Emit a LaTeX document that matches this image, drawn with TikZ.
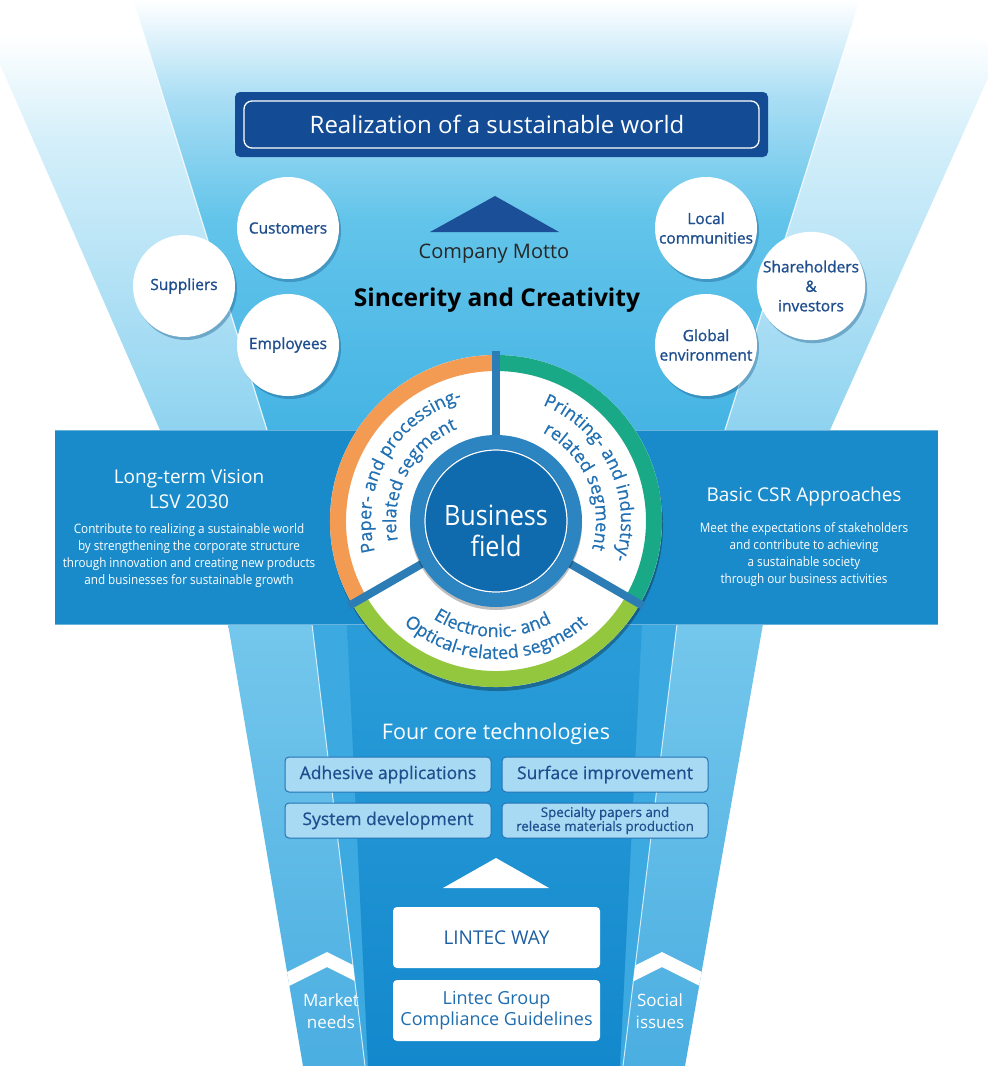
\documentclass[tikz,border=0pt]{standalone}
\usepackage{fontspec}
\setmainfont{Open Sans}
\newfontfamily\nar{Open Sans}[FakeStretch=0.9]
\newfontfamily\med{Open Sans}[FakeBold=1.2]
\newfontfamily\semi{Open Sans}[FakeBold=0.6]
\usetikzlibrary{decorations.text,shadows,calc}

% palette
\definecolor{outerA}{HTML}{D4EFFA}
\definecolor{outerB}{HTML}{8FD3F0}
\definecolor{innerA}{HTML}{A8DDF4}
\definecolor{innerM}{HTML}{62C4EA}
\definecolor{innerB}{HTML}{45B4E4}
\definecolor{lowouterA}{HTML}{74C7EC}
\definecolor{lowouterB}{HTML}{4BAEE1}
\definecolor{lowmid}{HTML}{3CA9E0}
\definecolor{lowcoreA}{HTML}{2A9DD9}
\definecolor{lowcoreB}{HTML}{1388CC}
\definecolor{bandblue}{HTML}{1A8BCA}
\definecolor{goalnavy}{HTML}{134C95}
\definecolor{mottonavy}{HTML}{1B4F97}
\definecolor{navytext}{HTML}{1E4E8E}
\definecolor{shadowblue}{HTML}{1B5C8C}
\definecolor{ringorange}{HTML}{F39B53}
\definecolor{ringteal}{HTML}{19A987}
\definecolor{ringlime}{HTML}{93C83E}
\definecolor{segblue}{HTML}{2070B3}
\definecolor{hubring}{HTML}{2C84C0}
\definecolor{hubdisc}{HTML}{0F6AAE}
\definecolor{divider}{HTML}{2C7DB5}
\definecolor{techfill}{HTML}{A8DAF4}
\definecolor{techline}{HTML}{2474B5}
\definecolor{waytext}{HTML}{1D5FA2}
\definecolor{guidetext}{HTML}{1E6DB0}

\newcommand\segf{\semi\fontsize{18}{18}\selectfont}

\tikzset{
  stakeholder/.style={circle, fill=white, minimum size=102pt, inner sep=0pt,
    align=center, text=navytext, font=\med\fontsize{15.5}{19.5}\selectfont,
    drop shadow={shadow xshift=2pt, shadow yshift=-3pt, fill=shadowblue, opacity=0.4}},
  techbox/.style={draw=techline, line width=1pt, fill=techfill, rounded corners=4pt,
    minimum width=206pt, minimum height=35pt, inner sep=0pt, text=navytext,
    align=center, font=\semi\fontsize{17.5}{17.5}\selectfont},
  whitebox/.style={fill=white, rounded corners=4pt, minimum width=207pt,
    minimum height=61pt, inner sep=0pt, align=center},
  bandtitle/.style={text=white, align=center, font=\fontsize{19}{25}\selectfont},
  bandbody/.style={text=white, align=center, font=\nar\fontsize{13}{17}\selectfont},
  sidelabel/.style={text=white, align=center, font=\fontsize{17}{22}\selectfont},
  arctext/.style={decorate, decoration={text along path, text align=center,
    text color=segblue, text={#1}}},
  chevron/.style={fill=white}
}

\begin{document}
\begin{tikzpicture}[x=1pt,y=1pt]
\useasboundingbox (0,0) rectangle (988,-1066);
\fill[white] (0,0) rectangle (988,-1066);

% ---------- upper funnel ----------
\begin{scope}
  \clip (-28,0) -- (1023,0) -- (830,-430) -- (160,-430) -- cycle;
  \fill[white] (-30,0) rectangle (1030,-35);
  \shade[top color=white, bottom color=outerA] (-30,-35) rectangle (1030,-140);
  \shade[top color=outerA, bottom color=outerB] (-30,-140) rectangle (1030,-431);
\end{scope}
\begin{scope}
  \clip (133,0) -- (860,0) -- (725,-430) -- (267,-430) -- cycle;
  \shade[top color=white, bottom color=innerA] (100,0) rectangle (900,-100);
  \shade[top color=innerA, bottom color=innerM] (100,-100) rectangle (900,-220);
  \shade[top color=innerM, bottom color=innerB] (100,-220) rectangle (900,-431);
\end{scope}
\draw[white, opacity=0.8, line width=1.2pt] (133,0) -- (267,-430);
\draw[white, opacity=0.8, line width=1.2pt] (860,0) -- (725,-430);

% ---------- lower funnel ----------
\shade[top color=lowouterA, bottom color=lowouterB]
  (228,-624) -- (303,-1066) -- (685,-1066) -- (763,-624) -- cycle;
\fill[lowmid] (312,-624) -- (365,-1066) -- (623,-1066) -- (677,-624) -- cycle;
\shade[top color=lowcoreA, bottom color=lowcoreB]
  (347,-624) -- (368,-1066) -- (620,-1066) -- (642,-624) -- cycle;
\draw[white, opacity=0.75, line width=1pt] (312,-624) -- (365,-1066);
\draw[white, opacity=0.75, line width=1pt] (677,-624) -- (623,-1066);

% chevrons in the side strips
\begin{scope}
  \clip (228,-624) -- (312,-624) -- (365,-1066) -- (303,-1066) -- cycle;
  \fill[chevron] (280,-975.5) -- (327,-952) -- (374,-975.5) -- (374,-990.5) -- (327,-967) -- (280,-990.5) -- cycle;
\end{scope}
\begin{scope}
  \clip (677,-624) -- (763,-624) -- (685,-1066) -- (623,-1066) -- cycle;
  \fill[chevron] (615,-975.5) -- (662,-952) -- (709,-975.5) -- (709,-990.5) -- (662,-967) -- (615,-990.5) -- cycle;
\end{scope}

% ---------- horizontal band ----------
\fill[bandblue] (55,-430) rectangle (938,-625);
\draw[white, opacity=0.35, line width=1pt] (55,-430.5) -- (938,-430.5);
\draw[white, opacity=0.35, line width=1pt] (55,-624.5) -- (938,-624.5);

% ---------- goal banner ----------
\fill[goalnavy, rounded corners=5pt] (235,-92) rectangle (768,-157);
\draw[white, line width=1.3pt, rounded corners=8pt] (244,-101) rectangle (759,-148);
\node[text=white, font=\fontsize{24}{24}\selectfont] (goal) at (497,-124) {Realization of a sustainable world};

% ---------- company motto ----------
\fill[mottonavy] (430,-232) -- (495,-196) -- (559,-232) -- cycle;
\node[text=black!85, font=\fontsize{20}{20}\selectfont] (motto) at (494,-254) {Company Motto};
\node[text=black, font=\bfseries\fontsize{24.5}{24.5}\selectfont] (sincerity) at (497,-300) {Sincerity and Creativity};

% ---------- stakeholders ----------
\node[stakeholder] (customers) at (288,-228) {Customers};
\node[stakeholder] (suppliers) at (184,-286) {Suppliers};
\node[stakeholder] (employees) at (288,-345) {Employees};
\node[stakeholder] (communities) at (706,-228) {Local\\communities};
\node[stakeholder] (shareholders) at (811,-286) {Shareholders\\\&\\investors};
\node[stakeholder] (environment) at (706,-345) {Global\\environment};

% ---------- band texts ----------
\node[bandtitle] (vision) at (189,-489.5) {Long-term Vision\\LSV 2030};
\node[bandbody] (visiontext) at (189,-555.5) {Contribute to realizing a sustainable world\\by strengthening the corporate structure\\through innovation and creating new products\\and businesses for sustainable growth};
\node[bandtitle] (csr) at (804,-497) {Basic CSR Approaches};
\node[bandbody] (csrtext) at (804,-555) {Meet the expectations of stakeholders\\and contribute to achieving\\a sustainable society\\through our business activities};

% ---------- business field wheel ----------
\coordinate (w) at (496,-521);
\fill[white, drop shadow={shadow xshift=1pt, shadow yshift=-4pt, fill=black, opacity=0.3}] (w) circle (166);
\draw[ringorange, line width=16pt] ($(w)+(210:158)$) arc[start angle=210, end angle=90, radius=158];
\draw[ringteal, line width=16pt] ($(w)+(90:158)$) arc[start angle=90, end angle=-30, radius=158];
\draw[ringlime, line width=16pt] ($(w)+(-30:158)$) arc[start angle=-30, end angle=-150, radius=158];
\foreach \a in {90,210,330}
  \draw[divider, line width=8pt] (w) -- ($(w)+(\a:170)$);
\fill[hubring, drop shadow={shadow xshift=0pt, shadow yshift=-3pt, fill=black, opacity=0.25}] (w) circle (86);
\fill[hubdisc] (w) circle (72);
\draw[white, line width=1.2pt] (w) circle (71);
\node[text=white, align=center, font=\nar\fontsize{28}{31}\selectfont] (field) at (496,-531) {Business\\field};

\path[arctext={|\segf|Paper- and processing-}] ($(w)+(225:125)$) arc[start angle=225, end angle=75, radius=125];
\path[arctext={|\segf|related segment}] ($(w)+(227:100)$) arc[start angle=227, end angle=77, radius=100];
\path[arctext={|\segf|Printing- and industry-}] ($(w)+(100:125)$) arc[start angle=100, end angle=-50, radius=125];
\path[arctext={|\segf|related segment}] ($(w)+(98:100)$) arc[start angle=98, end angle=-52, radius=100];
\path[arctext={|\segf|Electronic- and}] ($(w)+(193:116)$) arc[start angle=193, end angle=343, radius=116];
\path[arctext={|\segf|Optical-related segment}] ($(w)+(195:138)$) arc[start angle=195, end angle=345, radius=138];

% ---------- core technologies ----------
\node[text=white, font=\fontsize{21.5}{21.5}\selectfont] (core) at (496,-734) {Four core technologies};
\node[techbox] (adhesive) at (388,-774.5) {Adhesive applications};
\node[techbox] (surface) at (605,-774.5) {Surface improvement};
\node[techbox] (system) at (388,-820.5) {System development};
\node[techbox, font=\semi\fontsize{13.3}{14}\selectfont] (specialty) at (605,-820.5) {Specialty papers and\\release materials production};

\fill[white] (443,-888) -- (496,-858) -- (549,-888) -- cycle;

\node[whitebox, text=waytext, font=\fontsize{19}{19}\selectfont] (way) at (496.5,-937.5) {LINTEC WAY};
\node[whitebox, text=guidetext, font=\fontsize{18}{21}\selectfont] (guidelines) at (496.5,-1010.5) {Lintec Group\\Compliance Guidelines};

\node[sidelabel] (market) at (331,-1011) {Market\\needs};
\node[sidelabel] (social) at (660,-1011) {Social\\issues};
\end{tikzpicture}
\end{document}
